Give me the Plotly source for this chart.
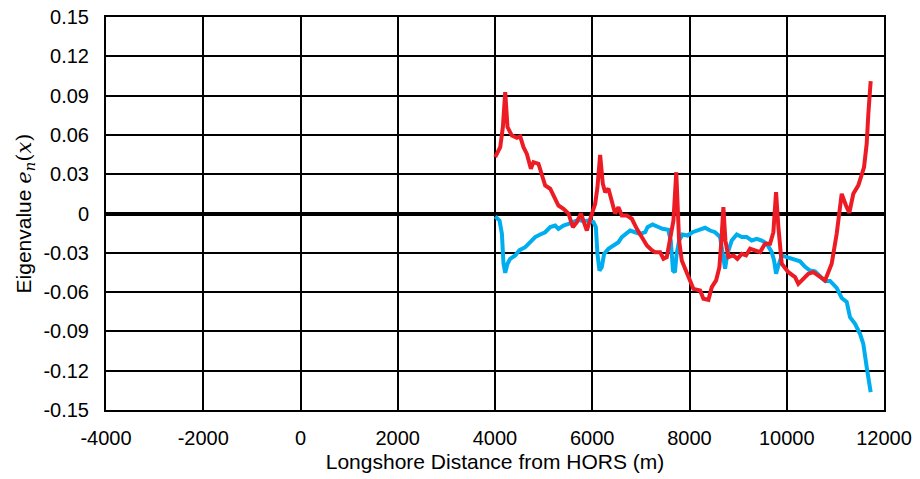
import plotly.graph_objects as go

# Longshore position (m) and eigenvalue for the two modes
red_x = [4004, 4107, 4162, 4210, 4257, 4347, 4450, 4518, 4586, 4655, 4738, 4791, 4894, 4964,
         5032, 5135, 5217, 5305, 5408, 5511, 5601, 5684, 5766, 5834, 5889, 5971, 6060, 6107,
         6162, 6217, 6265, 6333, 6402, 6470, 6539, 6608, 6711, 6814, 6917, 7020, 7123, 7225,
         7293, 7396, 7464, 7533, 7601, 7670, 7728, 7786, 7841, 7944, 8080, 8218, 8286, 8389,
         8458, 8547, 8615, 8656, 8697, 8738, 8800, 8903, 8985, 9075, 9163, 9245, 9348, 9451,
         9554, 9657, 9725, 9780, 9828, 9897, 10033, 10171, 10238, 10341, 10444, 10547, 10684,
         10787, 10855, 10924, 11027, 11130, 11218, 11287, 11369, 11472, 11589, 11644, 11678, 11726]
red_y = [0.043, 0.0506, 0.066, 0.0926, 0.066, 0.0595, 0.0578, 0.0588, 0.0506, 0.0455, 0.0341,
         0.0392, 0.038, 0.029, 0.0214, 0.0189, 0.0125, 0.0061, 0.0036, 0.0, -0.0104, -0.0066,
         0.0, -0.0079, -0.013, -0.0028, 0.0074, 0.02, 0.0448, 0.0227, 0.0163, 0.0189, 0.0099,
         0.0, 0.0048, -0.0015, -0.0015, -0.004, -0.0117, -0.018, -0.0244, -0.028, -0.0295,
         -0.0295, -0.0346, -0.0333, -0.0206, -0.0053, 0.0315, -0.0206, -0.0359, -0.046,
         -0.0575, -0.0588, -0.0651, -0.0659, -0.0562, -0.0511, -0.041, -0.0206, 0.0048,
         -0.0206, -0.0333, -0.032, -0.0346, -0.0308, -0.032, -0.0269, -0.0282, -0.0295,
         -0.0231, -0.0231, -0.0143, 0.0163, -0.0104, -0.0384, -0.0448, -0.0486, -0.0537,
         -0.0498, -0.046, -0.0448, -0.0486, -0.0511, -0.0448, -0.0384, -0.0155, 0.015,
         0.0061, 0.0005, 0.015, 0.0215, 0.0353, 0.0532, 0.0761, 0.101]

blue_x = [4004, 4093, 4142, 4175, 4210, 4257, 4312, 4415, 4504, 4621, 4724, 4826, 4929, 5032,
          5135, 5238, 5305, 5408, 5511, 5614, 5717, 5820, 5923, 6025, 6074, 6107, 6148, 6196,
          6244, 6333, 6436, 6539, 6608, 6711, 6779, 6882, 6986, 7089, 7136, 7239, 7342, 7444,
          7561, 7615, 7660, 7700, 7735, 7787, 7855, 7958, 8061, 8184, 8321, 8423, 8526, 8629,
          8684, 8732, 8779, 8869, 8972, 9075, 9177, 9280, 9383, 9486, 9589, 9692, 9739, 9780,
          9828, 9897, 10000, 10135, 10273, 10376, 10479, 10582, 10684, 10787, 10890, 11027,
          11130, 11233, 11301, 11404, 11507, 11575, 11644, 11726]
blue_y = [-0.0023, -0.0053, -0.0155, -0.0384, -0.0453, -0.0384, -0.0346, -0.032, -0.028,
          -0.0257, -0.0219, -0.018, -0.016, -0.0143, -0.0104, -0.0092, -0.0117, -0.0092,
          -0.0079, -0.0066, -0.0048, -0.0059, -0.0053, -0.0066, -0.0104, -0.0308, -0.0435,
          -0.041, -0.0308, -0.027, -0.0244, -0.0219, -0.018, -0.0155, -0.013, -0.0143,
          -0.0155, -0.0143, -0.0104, -0.0084, -0.0104, -0.0117, -0.0124, -0.0206, -0.0435,
          -0.0448, -0.031, -0.0206, -0.016, -0.0168, -0.0143, -0.013, -0.0109, -0.013,
          -0.0143, -0.018, -0.0308, -0.0422, -0.0308, -0.0206, -0.016, -0.018, -0.018,
          -0.0206, -0.0193, -0.0206, -0.0231, -0.0295, -0.0359, -0.046, -0.0397, -0.032,
          -0.0333, -0.0346, -0.0365, -0.0407, -0.0435, -0.0441, -0.048, -0.0515, -0.0515,
          -0.0568, -0.0645, -0.0675, -0.0791, -0.0842, -0.0918, -0.0995, -0.1173, -0.1364]

x_ticks = [-4000, -2000, 0, 2000, 4000, 6000, 8000, 10000, 12000]
y_ticks = [-0.15, -0.12, -0.09, -0.06, -0.03, 0, 0.03, 0.06, 0.09, 0.12, 0.15]
y_labels = ["-0.15", "-0.12", "-0.09", "-0.06", "-0.03", "0",
            "0.03", "0.06", "0.09", "0.12", "0.15"]

fig = go.Figure()
fig.add_trace(go.Scatter(x=blue_x, y=blue_y, mode="lines",
                         line=dict(color="#00AEEF", width=4), showlegend=False))
fig.add_trace(go.Scatter(x=red_x, y=red_y, mode="lines",
                         line=dict(color="#ED1C24", width=4), showlegend=False))

font_family = "Liberation Sans, Arial, sans-serif"

fig.update_layout(
    width=920, height=479,
    margin=dict(l=106, r=36, t=17, b=69),
    paper_bgcolor="white", plot_bgcolor="white",
    font=dict(family=font_family, size=20, color="black"),
    xaxis=dict(
        range=[-4000, 12000], tickmode="array", tickvals=x_ticks,
        ticktext=[str(v) for v in x_ticks], automargin=False,
        showgrid=True, gridcolor="black", gridwidth=2,
        showline=True, mirror=True, linecolor="black", linewidth=2, zeroline=False,
        ticks="outside", ticklen=9, tickcolor="rgba(0,0,0,0)",
        title=dict(text="Longshore Distance from HORS (m)", font=dict(size=21), standoff=6),
    ),
    yaxis=dict(
        range=[-0.15, 0.15], tickmode="array", tickvals=y_ticks, ticktext=y_labels,
        automargin=False,
        showgrid=True, gridcolor="black", gridwidth=2,
        showline=True, mirror=True, linecolor="black", linewidth=2,
        zeroline=True, zerolinecolor="black", zerolinewidth=4,
        ticks="outside", ticklen=11, tickcolor="rgba(0,0,0,0)",
        title=dict(
            text="Eigenvalue <span style='font-family:DejaVu Serif'><i>e<sub>n</sub></i>(<i>x</i>)</span>",
            font=dict(size=21), standoff=6),
    ),
)

fig.write_html("out.html")
